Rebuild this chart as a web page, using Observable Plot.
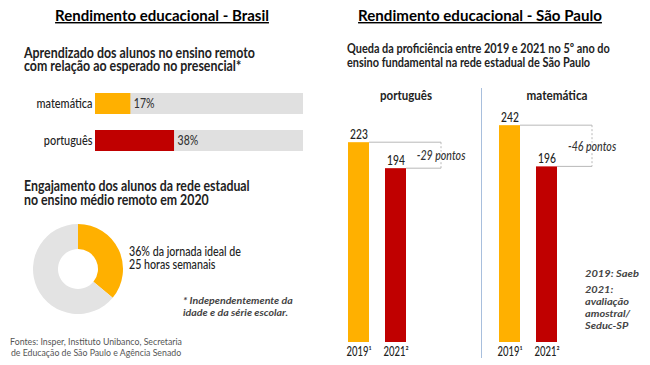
<!DOCTYPE html>
<html lang="pt-BR">
<head>
<meta charset="utf-8">
<script src="https://cdn.jsdelivr.net/npm/d3@7"></script>
<script src="https://cdn.jsdelivr.net/npm/@observablehq/plot@0.6"></script>
<style>
html,body{margin:0;padding:0;background:#fff;}
#root{position:relative;width:650px;height:365px;overflow:hidden;background:#fff;}
.chart{position:absolute;}
#overlay{position:absolute;left:0;top:0;pointer-events:none;}
#divider{position:absolute;left:481px;top:88px;width:1px;height:270px;background:#a8bfdd;}
</style>
</head>
<body>
<div id="root">
  <svg id="overlay" width="650" height="365"></svg>
  <div id="divider"></div>
  <div class="chart" id="hbars" style="left:0;top:80px"></div>
  <div class="chart" id="donut" style="left:28px;top:219px"></div>
  <div class="chart" id="sp1" style="left:330px;top:100px"></div>
  <div class="chart" id="sp2" style="left:481px;top:100px"></div>
</div>
<script>
// ---- data ----
const brSubjects = ["matemática", "português"];
const brLearning = [17, 38];
const engagement = 36;
const engagementHours = 25;
const spSubjects = ["português", "matemática"];
const spYears = ["2019", "2021"];
const spYearLabels = ["2019¹", "2021²"];
const spPortugues = [223, 194];
const spMatematica = [242, 196];

// ---- styles ----
const ORANGE = "#ffb000", RED = "#c00000", GREY = "#e0e0e0", TXT = "#222";
const LATO = 'Lato,"Open Sans",sans-serif';

// horizontally condense every text of a rendered svg around its anchor
function condense(svg, s) {
  svg.querySelectorAll("text").forEach(t => {
    const b = t.getBBox();
    const a = getComputedStyle(t).textAnchor;
    const ax = a === "end" ? b.x + b.width : a === "middle" ? b.x + b.width / 2 : b.x;
    const tr = t.getAttribute("transform") || "";
    t.setAttribute("transform", `${tr} translate(${ax},0) scale(${s},1) translate(${-ax},0)`);
  });
}

// ---- overlay text blocks (one <text> per block, one <tspan> per line) ----
const ov = d3.select("#overlay");
function B(lines, x, y, o = {}) {
  const t = ov.append("text")
    .attr("font-family", LATO)
    .attr("font-size", o.size || 14)
    .attr("font-weight", o.weight || "normal")
    .attr("font-style", o.style || "normal")
    .attr("fill", o.fill || TXT)
    .attr("text-anchor", o.anchor || "start");
  if (o.underline) t.attr("text-decoration", "underline");
  const spans = lines.map((l, i) => t.append("tspan").attr("x", (o.dx && o.dx[i]) || 0).attr("dy", i ? (o.lh || 13.5) : 0).text(l));
  const s = o.w ? o.w / spans[o.wi || 0].node().getComputedTextLength() : 1;
  t.attr("transform", `translate(${x},${y}) scale(${s},1)`);
  return t;
}
B(["Rendimento educacional - Brasil"], 162, 21, {size: 14.5, weight: "bold", anchor: "middle", w: 214, underline: true, fill: "#000"});
B(["Rendimento educacional - São Paulo"], 480, 21, {size: 14.5, weight: "bold", anchor: "middle", w: 244, underline: true, fill: "#000"});
const sub = {size: 15, weight: "bold", fill: "#222"};
B(["Aprendizado dos alunos no ensino remoto", "com relação ao esperado no presencial*"], 24, 57.5, {...sub, lh: 13.5, w: 231});
B(["Engajamento dos alunos da rede estadual", "no ensino médio remoto em 2020"], 24, 191, {...sub, lh: 14, w: 226});
B([`${engagement}% da jornada ideal de`, `${engagementHours} horas semanais`], 129, 255.5, {size: 13.5, weight: 500, lh: 13, w: 112});
B(["* Independentemente da", "idade e da série escolar."], 183, 304, {size: 10, weight: "bold", style: "italic", fill: "#444", lh: 12.5, w: 110});
B(["Fontes: Insper, Instituto Unibanco, Secretaria", "de Educação de São Paulo e Agência Senado"], 96, 345, {size: 9, fill: "#555", anchor: "middle", lh: 11.5, w: 172});
B(["Queda da proficiência entre 2019 e 2021 no 5º ano do", "ensino fundamental na rede estadual de São Paulo"], 347, 53.3, {size: 14, weight: "bold", fill: "#222", lh: 13.4, w: 263});
B([spSubjects[0]], 406, 100, {size: 14, weight: "bold", anchor: "middle", w: 52});
B([spSubjects[1]], 557, 100, {size: 14, weight: "bold", anchor: "middle", w: 61});
const noteR = {size: 10, weight: "bold", style: "italic", fill: "#444"};
B(["2019: Saeb"], 585, 277, {...noteR, w: 54});
B(["2021:", "avaliação", "amostral/", "Seduc-SP"], 585, 293.3, {...noteR, lh: 12, wi: 1, w: 44});

// ---- Brasil: horizontal bars ----
const hData = brSubjects.map((s, i) => ({subject: s, value: brLearning[i]}));
const hb = Plot.plot({
  width: 310, height: 80, marginLeft: 95, marginRight: 7, marginTop: 12, marginBottom: 8,
  style: {fontFamily: LATO, fontSize: "14px", fontWeight: 500, color: TXT, background: "transparent"},
  x: {domain: [0, 100], axis: null},
  y: {domain: brSubjects, paddingInner: 0.42, paddingOuter: 0, tickSize: 0, tickPadding: 3, label: null},
  color: {domain: brSubjects, range: [ORANGE, RED]},
  marks: [
    Plot.barX(hData, {y: "subject", x: () => 100, fill: GREY}),
    Plot.barX(hData, {y: "subject", x: "value", fill: "subject"}),
    Plot.text(hData, {y: "subject", x: "value", text: d => `${d.value}%`, textAnchor: "start", dx: 3, fontSize: 13.5, fill: "#333"})
  ]
});
document.getElementById("hbars").append(hb);
condense(hb, 0.78);

// ---- Brasil: donut ----
document.getElementById("donut").append(Plot.plot({
  width: 100, height: 100, margin: 0,
  style: {background: "transparent"},
  marks: [
    (index, scales, values, dims) => {
      const w = dims.width, h = dims.height;
      const R = Math.min(w, h) / 2 - 5;
      const g = d3.create("svg:g").attr("transform", `translate(${w / 2},${h / 2})`);
      const arcs = d3.pie().sort(null)([engagement, 100 - engagement]);
      const arc = d3.arc().innerRadius(20).outerRadius(R);
      g.selectAll("path").data(arcs).join("path").attr("d", arc).attr("fill", (d, i) => [ORANGE, "#e3e3e3"][i]);
      return g.node();
    }
  ]
}));

// ---- São Paulo: vertical bars ----
function spChart(values) {
  const data = spYears.map((y, i) => ({year: y, value: values[i]}));
  const diff = values[0] - values[1];
  return Plot.plot({
    width: 151, height: 265, marginTop: 18, marginBottom: 23, marginLeft: 0, marginRight: 0,
    style: {fontFamily: LATO, fontSize: "12.5px", fontWeight: 500, color: TXT, background: "transparent", overflow: "visible"},
    x: {domain: spYears, paddingInner: 0.42, paddingOuter: 1.25, align: 0.195, tickSize: 0, tickPadding: 5, label: null,
        tickFormat: d => spYearLabels[spYears.indexOf(d)]},
    y: {domain: [0, 250], axis: null},
    color: {domain: spYears, range: [ORANGE, RED]},
    marks: [
      Plot.barY(data, {x: "year", y: "value", fill: "year"}),
      Plot.text(data, {x: "year", y: "value", text: d => String(d.value), lineAnchor: "bottom", dy: -4, fontSize: 13.5, fill: "#222"}),
      (index, scales) => {
        const {x, y} = scales;
        const bw = x.bandwidth ? x.bandwidth() : 0;
        const x0 = x(spYears[0]) + bw, x1 = x(spYears[1]) + bw, xv = x1 + 35;
        const y0 = y(values[0]), y1 = y(values[1]);
        const g = d3.create("svg:g").attr("fill", "none");
        g.append("path").attr("d", `M${x0},${y0}H${xv}M${xv},${y1}H${x1}`).attr("stroke", "#b8b8b8");
        g.append("path").attr("d", `M${xv},${y0}V${y1}`).attr("stroke", "#b8b8b8").attr("stroke-dasharray", "2,2");
        g.append("text").attr("x", xv).attr("y", (y0 + y1) / 2).attr("dy", "0.35em")
          .attr("text-anchor", "middle").attr("font-style", "italic").attr("font-size", 14)
          .attr("fill", "#333").attr("stroke", "white").attr("stroke-width", 4).attr("paint-order", "stroke")
          .text(`-${diff} pontos`);
        return g.node();
      }
    ]
  });
}
const sp1 = spChart(spPortugues), sp2 = spChart(spMatematica);
document.getElementById("sp1").append(sp1);
document.getElementById("sp2").append(sp2);
condense(sp1, 0.76);
condense(sp2, 0.76);
</script>
</body>
</html>
